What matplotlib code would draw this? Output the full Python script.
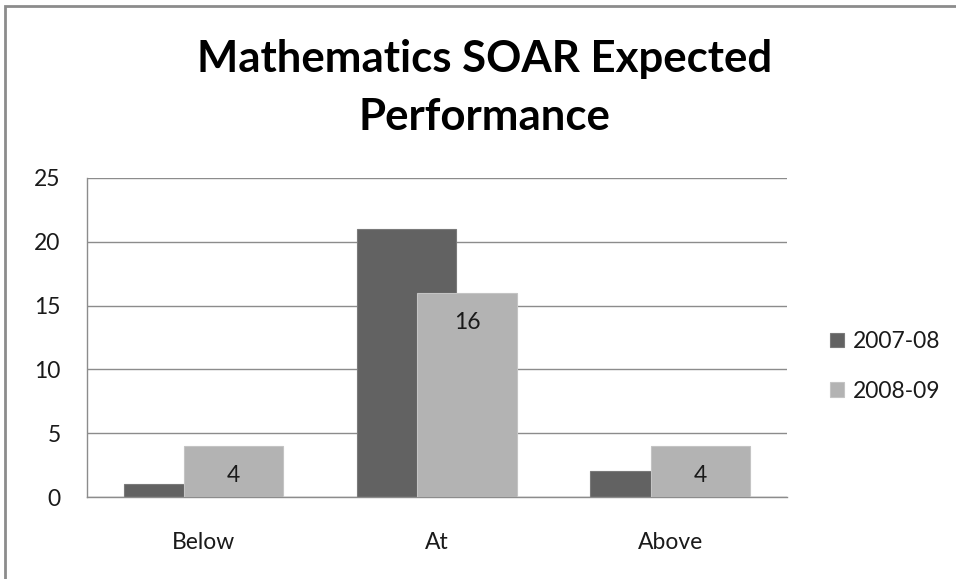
import matplotlib
matplotlib.use("Agg")
import matplotlib.pyplot as plt
from matplotlib.patches import Rectangle
import numpy as np

# chart data
categories = ["Below", "At", "Above"]
series_names = ["2007-08", "2008-09"]
vals_0708 = [1, 21, 2]
vals_0809 = [4, 16, 4]
y_ticks = [0, 5, 10, 15, 20, 25]

plt.rcParams['font.family'] = ['Lato', 'DejaVu Sans']

fig = plt.figure(figsize=(9.56, 5.79), dpi=100)
ax = fig.add_axes([0.091, 0.1416, 0.732, 0.551])

x = np.arange(len(categories))
bar_w = 0.425
off = 0.129

# dark series first, light series drawn over it (overlapping bars)
ax.bar(x - off, vals_0708, width=bar_w, color='#626262', edgecolor='#7a7a7a',
       linewidth=0.8, label=series_names[0], zorder=2)
bars2 = ax.bar(x + off, vals_0809, width=bar_w, color='#b3b3b3', edgecolor='#c4c4c4',
               linewidth=0.8, label=series_names[1], zorder=3)

# value labels inside the top of the 2008-09 bars
for b, v in zip(bars2, vals_0809):
    ax.annotate(str(v), (b.get_x() + b.get_width() / 2, b.get_height()),
                xytext=(0, -21), textcoords='offset points',
                ha='center', va='center', fontsize=16.5, color='#1a1a1a', zorder=4)

ax.set_xlim(-0.5, len(categories) - 0.5)
ax.set_ylim(0, 25)
ax.set_yticks(y_ticks)
ax.set_xticks(x)
ax.set_xticklabels(categories)
ax.tick_params(axis='both', length=0, labelsize=16.5, colors='#1a1a1a')
ax.tick_params(axis='y', pad=19)
ax.tick_params(axis='x', pad=25)

ax.yaxis.grid(True, color='#8c8c8c', linewidth=1.0, zorder=0)
ax.set_axisbelow(True)
for s in ['top', 'right']:
    ax.spines[s].set_visible(False)
for s in ['left', 'bottom']:
    ax.spines[s].set_color('#8c8c8c')
    ax.spines[s].set_linewidth(1.0)

leg = ax.legend(loc='center left', bbox_to_anchor=(1.032, 0.41), frameon=False,
                fontsize=16.5, handlelength=0.6, handleheight=0.6, handletextpad=0.4,
                labelspacing=1.25)
for t in leg.get_texts():
    t.set_color('#1a1a1a')

fig.text(0.507, 0.848, "Mathematics SOAR Expected\nPerformance", ha='center', va='center',
         fontsize=31.5, fontweight='bold', linespacing=1.55)

# outer chart border (top and left visible)
fig.patches.append(Rectangle((5 / 956, -0.1), 1.2, 1.1 - 6 / 579, transform=fig.transFigure,
                             fill=False, edgecolor='#8c8c8c', linewidth=2.0))

fig.savefig("out.png", dpi=100)
